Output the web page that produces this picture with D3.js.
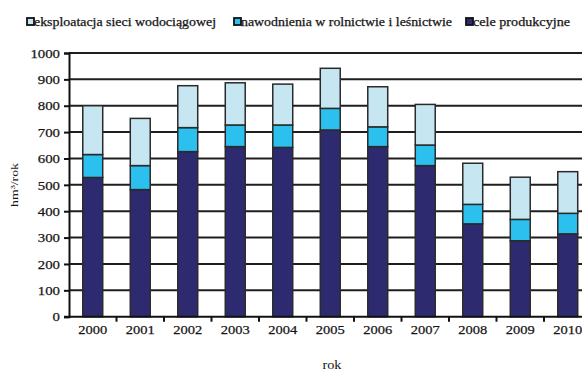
<!DOCTYPE html>
<html>
<head>
<meta charset="utf-8">
<script src="https://cdn.jsdelivr.net/npm/d3@7"></script>
<style>
  html, body { margin: 0; padding: 0; background: #fff; overflow: hidden; }
  svg { display: block; }
  svg text { font-family: "Liberation Serif", "Times New Roman", serif !important; fill: #161616; }
</style>
</head>
<body>
<svg id="chart" width="582" height="371"></svg>
<script>
// Years on the category axis
const years = ["2000", "2001", "2002", "2003", "2004", "2005", "2006", "2007", "2008", "2009", "2010"];

// Water withdrawal by purpose, hm³/rok (stacked bottom to top)
const celeProdukcyjne = [528, 482, 626, 645, 642, 708, 645, 573, 352, 288, 314];
const nawodnienia     = [87, 91, 91, 82, 85, 82, 75, 78, 74, 81, 78];
const eksploatacja    = [185, 179, 159, 160, 155, 152, 152, 154, 156, 160, 158];

// Value axis ticks
const yTicks = [0, 100, 200, 300, 400, 500, 600, 700, 800, 900, 1000];

// Series names (legend order) and their fills
const seriesNames = ["eksploatacja sieci wodociągowej", "nawodnienia w rolnictwie i leśnictwie", "cele produkcyjne"];
const seriesColors = ["#c6e6f2", "#2cc0ee", "#2e2a70"];

const FONT = "Liberation Serif";
const svg = d3.select("#chart");

const plotLeft = 69, plotBottom = 316.7, plotTop = 53;
const step = 47.5;
const inner = 0.58;

const x = d3.scaleBand()
  .domain(years)
  .range([plotLeft, plotLeft + step * years.length])
  .paddingInner(inner)
  .paddingOuter(inner / 2);

const y = d3.scaleLinear().domain([0, 1000]).range([plotBottom, plotTop]);

// Horizontal gridlines
svg.append("g")
  .selectAll("line")
  .data(yTicks.filter(d => d > 0))
  .join("line")
  .attr("x1", plotLeft)
  .attr("x2", 600)
  .attr("y1", d => y(d))
  .attr("y2", d => y(d))
  .attr("stroke", "#1e1e1e")
  .attr("stroke-width", 2);

// Stacked bars
const rows = years.map((yr, i) => ({
  year: yr,
  prod: celeProdukcyjne[i],
  naw: nawodnienia[i],
  eks: eksploatacja[i]
}));
const stack = d3.stack().keys(["prod", "naw", "eks"]);
const layers = stack(rows);
const layerColors = [seriesColors[2], seriesColors[1], seriesColors[0]];

svg.append("g")
  .selectAll("g")
  .data(layers)
  .join("g")
  .attr("fill", (d, i) => layerColors[i])
  .selectAll("rect")
  .data(d => d)
  .join("rect")
  .attr("x", d => x(d.data.year))
  .attr("width", x.bandwidth())
  .attr("y", d => y(d[1]))
  .attr("height", d => y(d[0]) - y(d[1]))
  .attr("stroke", "#2a2a2a")
  .attr("stroke-width", 1.5);

// Y axis
const yAxis = d3.axisLeft(y)
  .tickValues(yTicks)
  .tickSize(5)
  .tickPadding(4)
  .tickFormat(d3.format("d"));

const yg = svg.append("g")
  .attr("transform", `translate(${plotLeft},0)`)
  .attr("font-family", FONT)
  .call(yAxis);
yg.attr("font-family", FONT);
yg.select(".domain").attr("stroke", "#111").attr("stroke-width", 2);
yg.selectAll(".tick line").attr("stroke", "#111").attr("stroke-width", 2);
yg.selectAll(".tick text")
  .attr("font-family", FONT)
  .attr("font-size", 13)
  .attr("fill", "#161616")
  .attr("stroke", "#161616")
  .attr("stroke-width", 0.25)
  .attr("textLength", d => String(d).length * 7.4)
  .attr("lengthAdjust", "spacingAndGlyphs");

// X axis: baseline, category labels, and boundary ticks
const xAxis = d3.axisBottom(x).tickSize(0).tickPadding(8);
const xg = svg.append("g")
  .attr("transform", `translate(0,${plotBottom})`)
  .call(xAxis);
xg.attr("font-family", FONT);
xg.select(".domain").remove();
xg.selectAll(".tick text")
  .attr("font-family", FONT)
  .attr("font-size", 13)
  .attr("fill", "#161616")
  .attr("stroke", "#161616")
  .attr("stroke-width", 0.25)
  .attr("textLength", 29)
  .attr("lengthAdjust", "spacingAndGlyphs");

svg.append("line")
  .attr("x1", plotLeft - 5)
  .attr("x2", 600)
  .attr("y1", plotBottom)
  .attr("y2", plotBottom)
  .attr("stroke", "#111")
  .attr("stroke-width", 2);

svg.append("g")
  .selectAll("line")
  .data(years.slice(1))
  .join("line")
  .attr("x1", d => x(d) - x.step() * inner / 2)
  .attr("x2", d => x(d) - x.step() * inner / 2)
  .attr("y1", plotBottom)
  .attr("y2", plotBottom + 5)
  .attr("stroke", "#111")
  .attr("stroke-width", 2);

// Axis titles
svg.append("text")
  .attr("transform", "translate(18,185) rotate(-90)")
  .attr("text-anchor", "middle")
  .attr("font-family", FONT)
  .attr("font-size", 11)
  .attr("textLength", 44)
  .attr("lengthAdjust", "spacingAndGlyphs")
  .text("hm³/rok");

svg.append("text")
  .attr("x", 332)
  .attr("y", 369)
  .attr("text-anchor", "middle")
  .attr("font-family", FONT)
  .attr("font-size", 12)
  .attr("textLength", 19)
  .attr("lengthAdjust", "spacingAndGlyphs")
  .text("rok");

// Legend
const legendX = [27, 234, 466];
const legendW = [182, 211, 97];
const lg = svg.append("g")
  .selectAll("g")
  .data(seriesNames)
  .join("g")
  .attr("transform", (d, i) => `translate(${legendX[i]},18)`);

lg.append("rect")
  .attr("width", 7)
  .attr("height", 7)
  .attr("fill", (d, i) => seriesColors[i])
  .attr("stroke", "#111")
  .attr("stroke-width", 1.8);

lg.append("text")
  .attr("x", 7)
  .attr("y", 7.5)
  .attr("font-family", FONT)
  .attr("font-size", 12)
  .attr("stroke", "#161616")
  .attr("stroke-width", 0.25)
  .attr("textLength", (d, i) => legendW[i])
  .attr("lengthAdjust", "spacingAndGlyphs")
  .text(d => d);
</script>
</body>
</html>
